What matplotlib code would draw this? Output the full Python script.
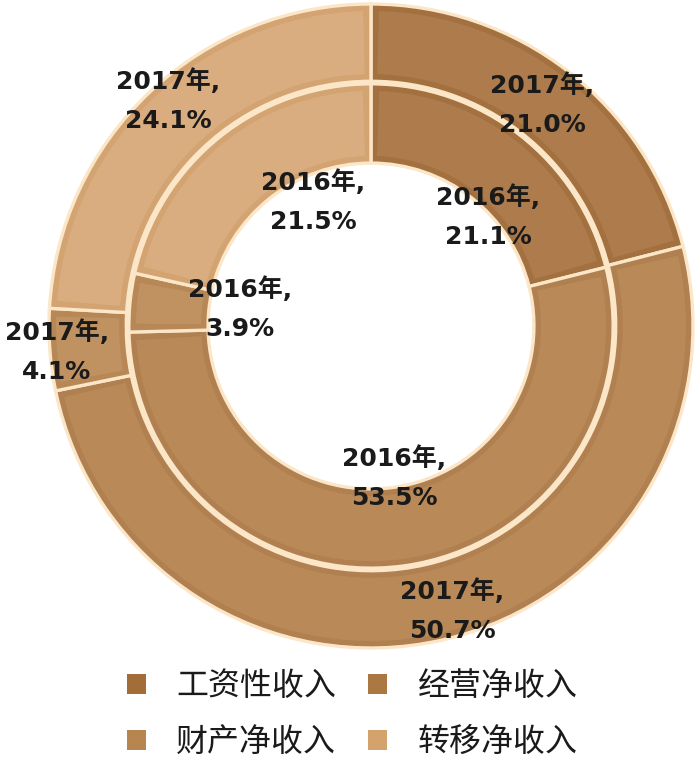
import matplotlib
matplotlib.use("Agg")
import matplotlib.pyplot as plt
from matplotlib.patches import Wedge, Patch
import numpy as np

plt.rcParams['font.family'] = ['Noto Sans CJK SC', 'DejaVu Sans']

categories = ['工资性收入', '经营净收入', '财产净收入', '转移净收入']
values_2016 = [21.1, 53.5, 3.9, 21.5]
values_2017 = [21.0, 50.7, 4.1, 24.1]
years = ['2016年', '2017年']

border_colors = ['#a3703f', '#b18050', '#b78756', '#d3a472']
fill_colors = ['#ae7c4c', '#b98a58', '#c09161', '#d9ad7f']
legend_colors = ['#a36d3a', '#ab7843', '#b68550', '#d4a26c']
sep_color = '#fce6c8'

W, H = 700, 757
fig = plt.figure(figsize=(W / 100, H / 100), dpi=100)
cx, cy, R = 371, 326, 322
lim = 1.03
half = R * lim
ax = fig.add_axes([(cx - half) / W, (H - cy - half) / H, 2 * half / W, 2 * half / H])
ax.set_xlim(-lim, lim)
ax.set_ylim(-lim, lim)
ax.axis('off')

rings = [(values_2017, 1.0, 0.24), (values_2016, 0.752, 0.246)]
inset = 0.022
for vals, radius, width in rings:
    wedges, _ = ax.pie(vals, radius=radius, startangle=90, counterclock=False,
                       colors=border_colors,
                       wedgeprops=dict(width=width, edgecolor=sep_color, linewidth=2.4))
    for w, fc in zip(wedges, fill_colors):
        r_out = w.r - inset
        r_in = w.r - w.width + inset
        rm = (r_out + r_in) / 2
        dth = np.degrees(inset / rm)
        ax.add_patch(Wedge((0, 0), r_out, w.theta1 + dth, w.theta2 - dth,
                           width=r_out - r_in, facecolor=fc, edgecolor='none'))
ax.set_xlim(-lim, lim)
ax.set_ylim(-lim, lim)
ax.set_aspect('auto')

# label centres in pixel coordinates of the reference
label_pos_2017 = [(542, 105), (452, 611), (57, 352), (168, 101)]
label_pos_2016 = [(488, 217), (394, 478), (240, 309), (313, 202)]

for year, vals, poss in [(years[1], values_2017, label_pos_2017),
                         (years[0], values_2016, label_pos_2016)]:
    for v, (px, py) in zip(vals, poss):
        ax.text((px - cx) / R, (cy - py) / R, f"{year},\n{v:.1f}%",
                ha='center', va='center', fontsize=18,
                family=['DejaVu Sans', 'Noto Sans CJK SC'], fontweight='bold',
                color='#1a1a1a', linespacing=1.8)

# matplotlib fills legend columns first; reorder so rows read left-to-right
order = [0, 2, 1, 3]
handles = [Patch(facecolor=legend_colors[i], edgecolor='none') for i in order]
labels = [categories[i] for i in order]
leg = fig.legend(handles, labels, ncol=2, loc='center',
                 bbox_to_anchor=(352 / W, 1 - 714 / H), frameon=False,
                 fontsize=23, handlelength=0.6, handleheight=0.6,
                 handletextpad=0.95, columnspacing=1.0, labelspacing=0.75)
for t in leg.get_texts():
    t.set_color('#1a1a1a')

fig.savefig('out.png', dpi=100)
